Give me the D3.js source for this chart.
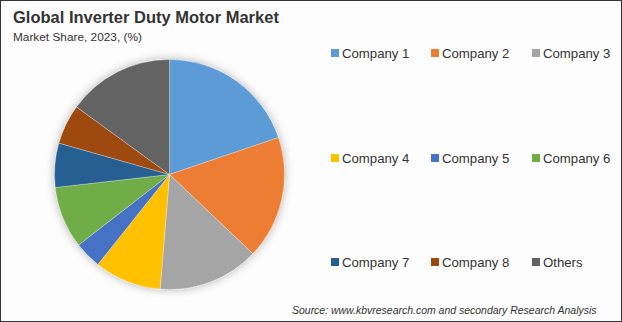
<!DOCTYPE html>
<html>
<head>
<meta charset="utf-8">
<script src="https://cdn.jsdelivr.net/npm/d3@7"></script>
<style>
  html, body { margin: 0; padding: 0; background: #fff; }
  svg { display: block; }
</style>
</head>
<body>
<div id="chart"></div>
<script>
const categories = ['Company 1', 'Company 2', 'Company 3', 'Company 4', 'Company 5',
  'Company 6', 'Company 7', 'Company 8', 'Others'];
const shares = [19.8, 17.3, 14.2, 9.4, 3.8, 8.7, 6.2, 5.6, 15.0];
const colors = ['#5b9bd5', '#ed7d31', '#a5a5a5', '#ffc000', '#4472c4',
  '#70ad47', '#255e91', '#9e480e', '#636363'];

const title = 'Global Inverter Duty Motor Market';
const subtitle = 'Market Share, 2023, (%)';
const source = 'Source: www.kbvresearch.com and secondary Research Analysis';

const width = 622;
const height = 322;
const font = '"Liberation Sans", Arial, sans-serif';

const svg = d3.select('#chart').append('svg')
  .attr('width', width)
  .attr('height', height);

const defs = svg.append('defs');
const shadow = defs.append('filter')
  .attr('id', 'glow')
  .attr('x', '-20%').attr('y', '-20%')
  .attr('width', '140%').attr('height', '140%');
shadow.append('feGaussianBlur')
  .attr('in', 'SourceAlpha')
  .attr('stdDeviation', 5)
  .attr('result', 'blur');
shadow.append('feComponentTransfer')
  .append('feFuncA').attr('type', 'linear').attr('slope', 0.3);
const merge = shadow.append('feMerge');
merge.append('feMergeNode');
merge.append('feMergeNode').attr('in', 'SourceGraphic');

svg.append('rect')
  .attr('x', 0.5).attr('y', 0.5)
  .attr('width', width - 1).attr('height', height - 1)
  .attr('fill', '#fdfdfd')
  .attr('stroke', '#333');

// fit a text node to a measured width by adjusting font size
function fitText(sel, target) {
  const w = sel.node().getComputedTextLength();
  const fs = parseFloat(sel.attr('font-size'));
  sel.attr('font-size', fs * target / w);
}

const t = svg.append('text')
  .attr('x', 13).attr('y', 23)
  .attr('font-family', font)
  .attr('font-weight', 'bold')
  .attr('font-size', 15)
  .attr('fill', '#333')
  .text(title);
fitText(t, 266);

const st = svg.append('text')
  .attr('x', 13).attr('y', 41)
  .attr('font-family', font)
  .attr('font-size', 12)
  .attr('fill', '#333')
  .text(subtitle);
fitText(st, 129);

// pie
const cx = 169.5, cy = 174.5, r = 115;
const pie = d3.pie().sort(null).value(d => d);
const arc = d3.arc().innerRadius(0).outerRadius(r);

const color = d3.scaleOrdinal().domain(categories).range(colors);

const g = svg.append('g')
  .attr('transform', `translate(${cx},${cy})`)
  .attr('filter', 'url(#glow)');

g.selectAll('path')
  .data(pie(shares))
  .enter()
  .append('path')
    .attr('d', arc)
    .attr('fill', (d, i) => color(categories[i]))
    .attr('stroke', '#ffffff')
    .attr('stroke-opacity', 0.5)
    .attr('stroke-width', 0.6);

// legend, 3 columns x 3 rows
const colX = d3.scaleOrdinal().domain([0, 1, 2]).range([331, 431, 532]);
const rowY = d3.scaleOrdinal().domain([0, 1, 2]).range([53, 158, 262]);

const legend = svg.append('g');
const items = legend.selectAll('g')
  .data(categories)
  .enter()
  .append('g')
    .attr('transform', (d, i) => `translate(${colX(i % 3)},${rowY(Math.floor(i / 3))})`);

items.append('rect')
  .attr('x', 0).attr('y', -4)
  .attr('width', 8).attr('height', 8)
  .attr('fill', d => color(d));

items.append('text')
  .attr('x', 11).attr('y', 4.5)
  .attr('font-family', font)
  .attr('font-size', 13.2)
  .attr('fill', '#333')
  .text(d => d);

const src = svg.append('text')
  .attr('x', 292).attr('y', 314)
  .attr('font-family', font)
  .attr('font-style', 'italic')
  .attr('font-size', 11)
  .attr('fill', '#333')
  .text(source);
fitText(src, 305);
</script>
</body>
</html>
